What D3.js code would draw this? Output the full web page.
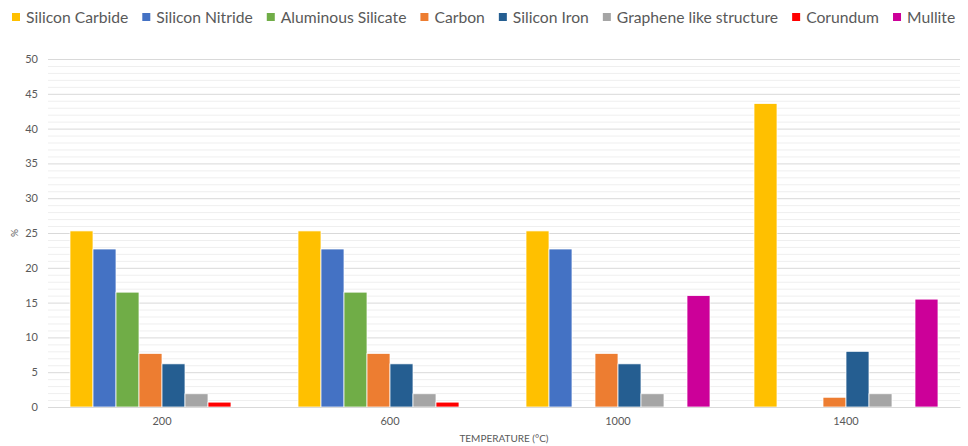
<!DOCTYPE html>
<html>
<head>
<meta charset="utf-8">
<script src="https://cdn.jsdelivr.net/npm/d3@7"></script>
<style>
  html, body { margin: 0; padding: 0; background: #fff; }
  svg { display: block; font-family: Lato, "Open Sans", sans-serif; }
</style>
</head>
<body>
<svg id="chart" width="968" height="446"></svg>
<script>
// Phase composition by firing temperature
const temperatures = ["200", "600", "1000", "1400"];
const seriesNames = ["Silicon Carbide", "Silicon Nitride", "Aluminous Silicate", "Carbon",
                     "Silicon Iron", "Graphene like structure", "Corundum", "Mullite"];
const seriesColors = ["#ffc000", "#4472c4", "#70ad47", "#ed7d31",
                      "#255e91", "#a5a5a5", "#ff0000", "#cc0099"];
const siliconCarbide   = [25.3, 25.3, 25.3, 43.6];
const siliconNitride   = [22.7, 22.7, 22.7, 0];
const aluminousSilicate= [16.5, 16.5, 0, 0];
const carbon           = [7.7, 7.7, 7.7, 1.4];
const siliconIron      = [6.2, 6.2, 6.2, 8.0];
const grapheneLike     = [1.9, 1.9, 1.9, 1.9];
const corundum         = [0.7, 0.7, 0, 0];
const mullite          = [0, 0, 16.0, 15.5];
const yTicks = [0, 5, 10, 15, 20, 25, 30, 35, 40, 45, 50];

const seriesValues = [siliconCarbide, siliconNitride, aluminousSilicate, carbon,
                      siliconIron, grapheneLike, corundum, mullite];

const svg = d3.select("#chart");
const margin = { left: 48, right: 8, top: 59, bottom: 39 };
const width = 968, height = 446;

const x0 = d3.scaleBand().domain(temperatures)
  .range([margin.left, width - margin.right])
  .paddingInner(0.193).paddingOuter(0.0965);
const x1 = d3.scaleBand().domain(seriesNames).range([0, x0.bandwidth()]).padding(0);
const y = d3.scaleLinear().domain([0, 50]).range([height - margin.bottom, margin.top]);

// minor gridlines
svg.append("g").selectAll("line").data(d3.range(0, 51, 1).filter(v => v % 5 !== 0))
  .join("line")
  .attr("x1", margin.left).attr("x2", width - margin.right)
  .attr("y1", d => y(d) + 0.5).attr("y2", d => y(d) + 0.5)
  .attr("stroke", "#efefef").attr("stroke-width", 1);

// major gridlines
svg.append("g").selectAll("line").data(yTicks)
  .join("line")
  .attr("x1", margin.left).attr("x2", width - margin.right)
  .attr("y1", d => y(d) + 0.5).attr("y2", d => y(d) + 0.5)
  .attr("stroke", "#d9d9d9").attr("stroke-width", 1);

// y axis labels
const yAxis = d3.axisLeft(y).tickValues(yTicks).tickSize(0).tickPadding(10);
const gy = svg.append("g").attr("transform", `translate(${margin.left},0)`).call(yAxis);
gy.select(".domain").remove();
gy.selectAll("text").attr("fill", "#595959").style("font-size", "11px")
  .style("font-family", "Lato, 'Open Sans', sans-serif");

// bars
const groups = svg.append("g").selectAll("g").data(temperatures).join("g")
  .attr("transform", d => `translate(${x0(d)},0)`);
groups.selectAll("rect")
  .data((t, i) => seriesNames.map((s, k) => ({ s, k, v: seriesValues[k][i] })).filter(d => d.v > 0))
  .join("rect")
  .attr("x", d => x1(d.s))
  .attr("width", x1.bandwidth())
  .attr("y", d => y(d.v))
  .attr("height", d => y(0) - y(d.v))
  .attr("fill", d => seriesColors[d.k])
  .attr("stroke", "#ffffff").attr("stroke-width", 0.75);

// x axis
const xAxis = d3.axisBottom(x0).tickSize(0).tickPadding(10);
const gx = svg.append("g").attr("transform", `translate(0,${y(0)})`).call(xAxis);
gx.select(".domain").attr("stroke", "#d9d9d9");
gx.selectAll("text").attr("fill", "#595959").style("font-size", "11px")
  .style("font-family", "Lato, 'Open Sans', sans-serif");

// axis titles
svg.append("text").attr("x", (margin.left + width - margin.right) / 2).attr("y", 442)
  .attr("text-anchor", "middle").attr("fill", "#595959").style("font-size", "10px")
  .text("TEMPERATURE (°C)");
svg.append("text").attr("transform", "translate(18,233) rotate(-90)")
  .attr("text-anchor", "middle").attr("fill", "#595959").style("font-size", "10px")
  .text("%");

// legend
const legend = svg.append("g").attr("transform", "translate(12,17)");
let lx = 0;
seriesNames.forEach((name, k) => {
  const item = legend.append("g").attr("transform", `translate(${lx},0)`);
  item.append("rect").attr("x", 0).attr("y", -4).attr("width", 8).attr("height", 8)
    .attr("fill", seriesColors[k]);
  const t = item.append("text").attr("x", 14).attr("y", 0).attr("dy", "0.35em")
    .attr("fill", "#595959").style("font-size", "15.7px").text(name);
  lx += 14 + t.node().getComputedTextLength() + 14;
});
</script>
</body>
</html>
